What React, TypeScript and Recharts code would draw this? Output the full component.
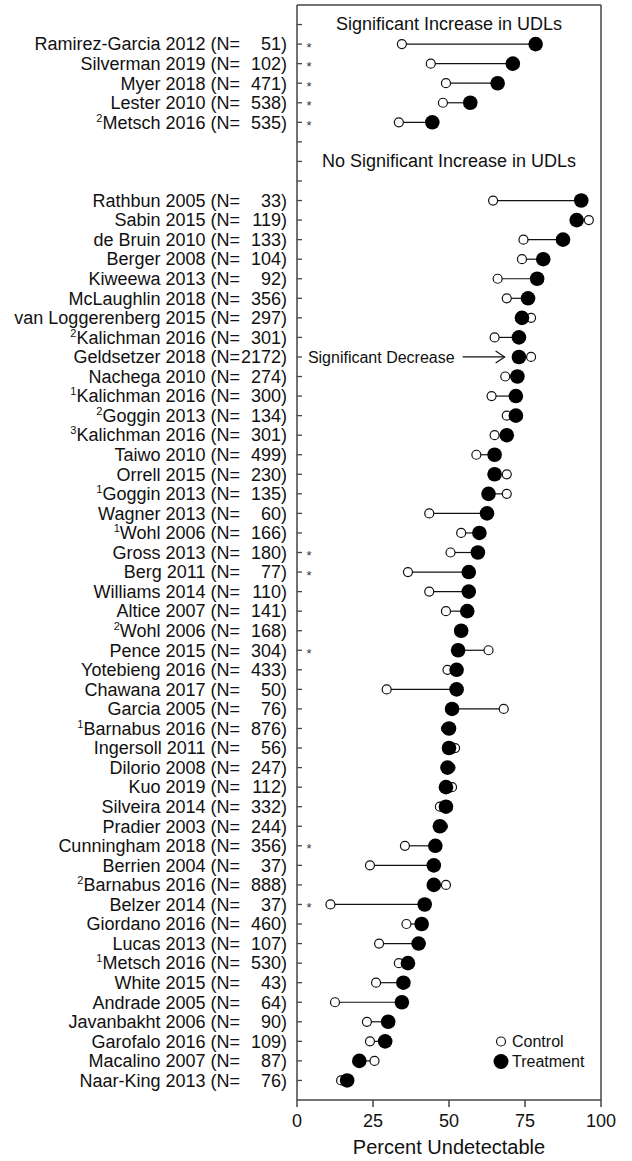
import { ScatterChart, Scatter, XAxis, YAxis, ErrorBar, ReferenceDot, Legend } from "recharts";

const FONT = '"Liberation Sans", Arial, Helvetica, sans-serif';
const INK = "#111";
const AXIS = "#444";

// studies with a significant increase in UDLs
const sigNames = ["Ramirez-Garcia 2012", "Silverman 2019", "Myer 2018", "Lester 2010", "Metsch 2016"];
const sigSup = ["", "", "", "", "2"];
const sigN = [51, 102, 471, 538, 535];
const sigControl = [34.5, 44, 49, 48, 33.5];
const sigTreatment = [78.5, 71, 66, 57, 44.5];
const sigDiff = ["+44", "+27", "+17", "+9", "+11"];

// studies without a significant increase
const otherNames = [
  "Rathbun 2005", "Sabin 2015", "de Bruin 2010", "Berger 2008", "Kiweewa 2013", "McLaughlin 2018",
  "van Loggerenberg 2015", "Kalichman 2016", "Geldsetzer 2018", "Nachega 2010", "Kalichman 2016",
  "Goggin 2013", "Kalichman 2016", "Taiwo 2010", "Orrell 2015", "Goggin 2013", "Wagner 2013",
  "Wohl 2006", "Gross 2013", "Berg 2011", "Williams 2014", "Altice 2007", "Wohl 2006", "Pence 2015",
  "Yotebieng 2016", "Chawana 2017", "Garcia 2005", "Barnabus 2016", "Ingersoll 2011", "Dilorio 2008",
  "Kuo 2019", "Silveira 2014", "Pradier 2003", "Cunningham 2018", "Berrien 2004", "Barnabus 2016",
  "Belzer 2014", "Giordano 2016", "Lucas 2013", "Metsch 2016", "White 2015", "Andrade 2005",
  "Javanbakht 2006", "Garofalo 2016", "Macalino 2007", "Naar-King 2013",
];
const otherSup = [
  "", "", "", "", "", "", "", "2", "", "", "1", "2", "3", "", "", "1", "", "1", "", "", "", "", "2", "",
  "", "", "", "1", "", "", "", "", "", "", "", "2", "", "", "", "1", "", "", "", "", "", "",
];
const otherN = [
  33, 119, 133, 104, 92, 356, 297, 301, 2172, 274, 300, 134, 301, 499, 230, 135, 60, 166, 180, 77, 110,
  141, 168, 304, 433, 50, 76, 876, 56, 247, 112, 332, 244, 356, 37, 888, 37, 460, 107, 530, 43, 64, 90,
  109, 87, 76,
];
const otherStarred = ["Gross 2013", "Berg 2011", "Pence 2015", "Cunningham 2018", "Belzer 2014"];
const otherControl = [
  64.5, 96, 74.5, 74, 66, 69, 77, 65, 77, 68.5, 64, 69, 65, 59, 69, 69, 43.5, 54, 50.5, 36.5, 43.5, 49,
  54, 63, 49.5, 29.5, 68, 49, 52, 50.5, 51, 47, 48, 35.5, 24, 49, 11, 36, 27, 33.5, 26, 12.5, 23, 24,
  25.5, 14.5,
];
const otherTreatment = [
  93.5, 92, 87.5, 81, 79, 76, 74, 73, 73, 72.5, 72, 72, 69, 65, 65, 63, 62.5, 60, 59.5, 56.5, 56.5, 56,
  54, 53, 52.5, 52.5, 51, 50, 50, 49.5, 49, 49, 47, 45.5, 45, 45, 42, 41, 40, 36.5, 35, 34.5, 30, 29,
  20.5, 16.5,
];
const otherDiff = [
  "+29", "-4", "+13", "+7", "+13", "+7", "-3", "+8", "-4", "+4", "+8", "+3", "+4", "+6", "-4", "-6",
  "+19", "+6", "+9", "+20", "+13", "+7", "0", "-10", "+3", "+23", "-17", "+1", "-2", "-1", "-2", "+2",
  "-1", "+10", "+21", "-4", "+31", "+5", "+13", "+3", "+9", "+22", "+7", "+5", "-5", "+2",
];

const xTicks = [0, 25, 50, 75, 100];

type Row = {
  kind: "study" | "header" | "blank";
  title?: string;
  name?: string;
  sup?: string;
  n?: number;
  star?: boolean;
  control?: number;
  treatment?: number;
  diff?: string;
};

const rows: Row[] = [
  { kind: "header", title: "Significant Increase in UDLs" },
  ...sigNames.map((name, i) => ({
    kind: "study" as const, name, sup: sigSup[i], n: sigN[i], star: true,
    control: sigControl[i], treatment: sigTreatment[i], diff: sigDiff[i],
  })),
  { kind: "blank" },
  { kind: "header", title: "No Significant Increase in UDLs" },
  { kind: "blank" },
  ...otherNames.map((name, i) => ({
    kind: "study" as const, name, sup: otherSup[i], n: otherN[i], star: otherStarred.includes(name),
    control: otherControl[i], treatment: otherTreatment[i], diff: otherDiff[i],
  })),
];

const rowTicks = rows.map((_, i) => i);
const decreaseRow = rows.findIndex((r) => r.name === "Geldsetzer 2018");

const controlPoints = rows.flatMap((r, i) =>
  r.kind === "study"
    ? [{
        x: r.control!,
        y: i,
        // bar from control to treatment
        span: r.treatment! >= r.control! ? [0, r.treatment! - r.control!] : [r.control! - r.treatment!, 0],
      }]
    : []
);
const treatmentPoints = rows.flatMap((r, i) => (r.kind === "study" ? [{ x: r.treatment!, y: i }] : []));

function LeftTick({ x, y, payload }: any) {
  const row = rows[payload.value];
  const base = y + 6.3;
  return (
    <g fontFamily={FONT} fill={INK}>
      <line x1={x} x2={x + 5} y1={y} y2={y} stroke={AXIS} strokeWidth={1.3} />
      {row && row.kind === "study" && (
        <>
          <text x={x - 57} y={base} textAnchor="end" fontSize={18}>
            {row.sup ? <tspan fontSize={11} dy={-7}>{row.sup}</tspan> : null}
            {row.sup ? <tspan dy={7}>{`${row.name} (N=`}</tspan> : `${row.name} (N=`}
          </text>
          <text x={x - 10} y={base} textAnchor="end" fontSize={18}>
            {`${row.n})`}
          </text>
          {row.star && (
            <text x={x + 12} y={y + 7.5} textAnchor="middle" fontSize={13} fill="#333">
              *
            </text>
          )}
        </>
      )}
    </g>
  );
}

function RightTick({ x, y, payload }: any) {
  const row = rows[payload.value];
  if (!row || row.kind !== "study") return <g />;
  return (
    <text x={x + 33} y={y + 5.6} textAnchor="end" fontSize={16} fontFamily={FONT} fill={INK}>
      {row.diff}
    </text>
  );
}

function HeaderShape(title: string) {
  return (p: any) => (
    <text x={p.cx} y={p.cy + 5.8} textAnchor="middle" fontSize={18} fontFamily={FONT} fill={INK}>
      {title}
    </text>
  );
}

function DecreaseShape(p: any) {
  const { cx, cy } = p;
  return (
    <g stroke={INK} strokeWidth={1.2} fill="none">
      <text x={cx - 50} y={cy + 5.6} textAnchor="end" fontSize={16} fontFamily={FONT} fill={INK} stroke="none">
        Significant Decrease
      </text>
      <line x1={cx - 42} x2={cx} y1={cy} y2={cy} />
      <polyline points={`${cx - 9},${cy - 6} ${cx},${cy} ${cx - 9},${cy + 6}`} />
    </g>
  );
}

function LegendBox() {
  const item = (label: string, filled: boolean) => (
    <div style={{ display: "flex", alignItems: "center", height: 19.5 }}>
      <svg width={20} height={19} style={{ display: "block" }}>
        {filled ? (
          <circle cx={10} cy={9.5} r={7.5} fill="#000" />
        ) : (
          <circle cx={10} cy={9.5} r={4.5} fill="#fff" stroke={INK} strokeWidth={1.2} />
        )}
      </svg>
      <span style={{ marginLeft: 1, fontSize: 16, fontFamily: FONT, color: INK, lineHeight: "19px" }}>{label}</span>
    </div>
  );
  return (
    <div>
      {item("Control", false)}
      {item("Treatment", true)}
    </div>
  );
}

export default function App() {
  return (
    <div style={{ width: 632, height: 1161, background: "#fff" }}>
      <style>{"body{margin:0}"}</style>
      <ScatterChart width={632} height={1161} margin={{ top: 0, right: 0, bottom: 0, left: 0 }}>
        <XAxis
          xAxisId="B"
          dataKey="x"
          type="number"
          domain={[0, 100]}
          ticks={xTicks}
          height={61}
          tickSize={7}
          tickMargin={7}
          stroke={AXIS}
          strokeWidth={1.5}
          tick={{ fontSize: 18, fill: INK, fontFamily: FONT }}
          label={{ value: "Percent Undetectable", position: "insideBottom", offset: 7, fontSize: 20, fill: INK, fontFamily: FONT }}
        />
        <XAxis
          xAxisId="T"
          orientation="top"
          type="number"
          domain={[0, 100]}
          height={5}
          tick={false}
          tickLine={false}
          stroke={AXIS}
          strokeWidth={1.5}
        />
        <YAxis
          yAxisId="L"
          dataKey="y"
          type="number"
          domain={[-1, rows.length]}
          reversed
          ticks={rowTicks}
          interval={0}
          width={297}
          tickSize={0}
          tickMargin={0}
          tickLine={false}
          stroke={AXIS}
          strokeWidth={1.5}
          tick={<LeftTick />}
        />
        <YAxis
          yAxisId="R"
          orientation="right"
          type="number"
          domain={[-1, rows.length]}
          reversed
          ticks={rowTicks}
          interval={0}
          width={31}
          tickSize={0}
          tickMargin={0}
          tickLine={false}
          stroke={AXIS}
          strokeWidth={1.5}
          tick={<RightTick />}
        />
        <Scatter
          name="Control"
          data={controlPoints}
          xAxisId="B"
          yAxisId="L"
          isAnimationActive={false}
          shape={(p: any) => <circle cx={p.cx} cy={p.cy} r={4.5} fill="#fff" stroke={INK} strokeWidth={1.2} />}
        >
          <ErrorBar dataKey="span" direction="x" width={0} stroke={INK} strokeWidth={1.2} isAnimationActive={false} />
        </Scatter>
        <Scatter
          name="Treatment"
          data={treatmentPoints}
          xAxisId="B"
          yAxisId="L"
          isAnimationActive={false}
          shape={(p: any) => <circle cx={p.cx} cy={p.cy} r={7.3} fill="#000" />}
        />
        {rows.map((r, i) =>
          r.kind === "header" ? (
            <ReferenceDot key={i} x={50} y={i} r={0} xAxisId="B" yAxisId="L" shape={HeaderShape(r.title!)} />
          ) : null
        )}
        <ReferenceDot x={68.3} y={decreaseRow} r={0} xAxisId="B" yAxisId="L" shape={DecreaseShape} />
        <Legend
          layout="vertical"
          align="center"
          verticalAlign="middle"
          content={<LegendBox />}
          wrapperStyle={{ position: "absolute", left: 491, top: 1032, width: 120, height: 40 }}
        />
      </ScatterChart>
    </div>
  );
}
